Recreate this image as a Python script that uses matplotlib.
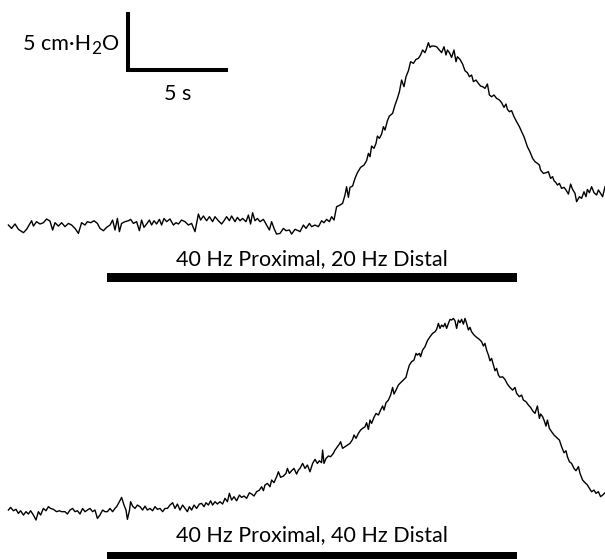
import matplotlib
matplotlib.use("Agg")
import matplotlib.pyplot as plt
from matplotlib.transforms import IdentityTransform
import numpy as np

# ---- data: time (s) and pressure change (cmH2O) ----
t1 = [0.42,0.58,0.75,0.92,1.17,1.33,1.58,1.67,1.83,2.00,2.17,2.33,2.50,2.63,2.75,2.92,3.08,3.25,3.42,3.58,
      3.75,3.92,4.08,4.25,4.37,4.53,4.70,4.87,5.00,5.17,5.33,5.50,5.63,5.75,5.87,5.97,6.08,6.25,6.42,6.53,
      6.67,6.83,6.97,7.08,7.20,7.33,7.47,7.58,7.70,7.83,7.97,8.08,8.20,8.33,8.50,8.67,8.80,8.92,9.08,9.25,
      9.42,9.58,9.75,9.92,10.03,10.17,10.33,10.47,10.63,10.75,10.92,11.08,11.20,11.33,11.47,11.58,11.75,11.87,12.00,12.13,
      12.30,12.42,12.53,12.63,12.75,12.87,13.00,13.17,13.33,13.47,13.58,13.70,13.83,14.00,14.17,14.30,14.47,14.58,14.75,14.92,
      15.00,15.17,15.30,15.47,15.58,15.75,15.92,16.08,16.20,16.33,16.47,16.58,16.70,16.83,17.00,17.13,17.25,17.33,17.42,17.50,
      17.63,17.75,17.87,18.03,18.20,18.33,18.42,18.50,18.58,18.70,18.80,18.87,18.97,19.08,19.17,19.25,19.37,19.47,19.53,19.63,
      19.75,19.87,19.97,20.08,20.20,20.30,20.42,20.53,20.67,20.80,20.92,21.03,21.13,21.25,21.33,21.42,21.50,21.58,21.70,21.83,
      21.97,22.08,22.20,22.30,22.37,22.47,22.58,22.70,22.80,22.87,23.00,23.13,23.25,23.37,23.47,23.58,23.67,23.80,23.92,24.03,
      24.13,24.25,24.37,24.47,24.58,24.70,24.83,24.97,25.08,25.20,25.30,25.37,25.47,25.58,25.70,25.83,25.97,26.08,26.20,26.30,
      26.37,26.47,26.53,26.63,26.75,26.87,26.97,27.03,27.17,27.30,27.42,27.53,27.63,27.70,27.80,27.87,27.97,28.08,28.20,28.30,
      28.42,28.53,28.63,28.75,28.83,28.97,29.08,29.20,29.30,29.37,29.47,29.58,29.70,29.83,29.92,30.03,30.13,30.25]
p1 = [0.00,-0.29,0.09,-0.37,-0.66,-0.37,0.37,-0.09,0.29,0.09,0.20,0.52,0.34,-0.43,0.20,-0.09,0.20,-0.14,0.14,0.00,
      -0.29,-0.72,0.20,0.00,0.29,0.20,0.37,0.14,-0.29,-0.49,-0.20,0.00,0.43,-0.43,0.57,-0.57,0.14,0.29,0.37,0.49,
      0.14,0.29,-0.49,0.43,-0.20,0.09,0.43,0.00,0.37,0.09,0.49,0.00,0.57,0.29,0.52,0.00,0.20,0.09,0.43,0.29,
      0.00,0.14,-0.57,0.95,0.43,0.78,0.37,0.72,0.29,0.72,0.37,0.09,0.37,0.72,0.37,0.78,0.29,0.66,0.37,0.57,
      0.29,0.86,0.09,1.06,0.37,0.57,0.29,0.49,0.00,-0.43,0.29,-0.29,-0.78,-0.72,-0.29,-0.49,-0.43,-0.78,-0.37,-0.49,
      -0.57,0.00,-0.29,0.14,-0.14,0.00,-0.14,0.37,0.20,0.49,0.29,0.72,0.43,1.58,1.72,1.87,2.59,3.30,2.39,3.25,
      3.36,4.02,4.51,4.97,5.17,5.55,6.18,5.89,6.81,6.61,7.04,7.67,7.47,7.84,8.48,8.19,8.99,9.40,9.48,9.63,
      10.34,10.92,11.49,12.50,11.93,12.79,13.30,14.08,13.94,14.28,14.37,14.66,15.09,14.86,15.23,15.72,15.32,15.43,15.43,15.37,
      15.09,14.86,15.37,14.66,15.09,14.86,14.45,15.09,14.08,14.51,14.28,13.88,13.30,13.13,12.79,12.93,12.36,12.50,12.21,11.98,
      11.93,11.78,12.16,11.21,11.06,11.21,10.92,10.78,10.55,10.14,10.43,9.97,9.77,9.86,9.34,8.91,8.48,8.05,7.61,7.10,
      6.75,6.41,6.18,5.75,5.46,5.32,5.17,4.74,4.45,4.51,4.60,4.02,4.17,3.82,3.65,3.45,3.59,3.16,3.25,3.02,
      2.67,3.53,3.07,2.73,2.01,2.44,2.30,2.87,2.44,3.07,2.79,3.30,2.79,2.59,3.02,2.73,2.44,3.30]

t2 = [0.42,0.53,0.67,0.80,0.92,1.03,1.17,1.30,1.42,1.53,1.67,1.80,1.92,2.03,2.17,2.30,2.42,2.53,2.67,2.83,
      2.97,3.08,3.25,3.37,3.50,3.63,3.75,3.87,4.00,4.13,4.25,4.37,4.50,4.63,4.75,4.87,5.00,5.13,5.25,5.37,
      5.50,5.63,5.75,5.83,5.97,6.08,6.20,6.30,6.37,6.47,6.53,6.63,6.75,6.87,7.00,7.13,7.25,7.37,7.50,7.63,
      7.75,7.87,8.00,8.13,8.25,8.37,8.50,8.63,8.75,8.87,9.00,9.13,9.25,9.37,9.47,9.58,9.70,9.83,9.97,10.08,
      10.20,10.30,10.42,10.53,10.63,10.75,10.87,11.00,11.13,11.25,11.37,11.47,11.58,11.70,11.83,11.97,12.08,12.20,12.33,12.47,
      12.58,12.70,12.83,12.97,13.08,13.17,13.25,13.37,13.50,13.58,13.70,13.83,13.92,14.03,14.17,14.30,14.37,14.47,14.58,14.70,
      14.83,14.92,
      15.00,15.13,15.25,15.37,15.50,15.63,15.75,15.87,15.97,16.08,16.13,16.20,16.30,16.42,16.53,16.67,16.75,16.87,16.97,17.03,
      17.13,17.25,17.37,17.50,17.63,17.70,17.80,17.92,18.03,18.13,18.25,18.33,18.42,18.50,18.58,18.70,18.80,18.92,19.03,19.13,
      19.20,19.30,19.42,19.53,19.63,19.70,19.80,19.92,20.03,20.17,20.30,20.37,20.47,20.58,20.70,20.80,20.87,20.97,21.03,21.13,
      21.25,21.37,21.50,21.63,21.75,21.83,21.92,22.00,22.08,22.17,22.25,22.33,22.42,22.50,22.58,22.67,22.75,22.83,22.92,23.00,
      23.08,23.17,23.25,23.33,23.42,23.50,23.58,23.70,23.83,23.97,24.08,24.17,24.25,24.33,24.42,24.50,24.58,24.67,24.75,24.83,
      24.92,25.00,25.13,25.25,25.37,25.50,25.63,25.75,25.83,25.97,26.08,26.17,26.30,26.42,26.53,26.63,26.75,26.87,26.97,27.03,
      27.13,27.20,27.30,27.37,27.47,27.58,27.70,27.83,27.97,28.08,28.20,28.30,28.37,28.47,28.58,28.70,28.80,28.92,29.00,29.13,
      29.25,29.37,29.47,29.58,29.70,29.80,29.92,30.03,30.13,30.25]
p2 = [0.00,0.23,-0.06,0.06,-0.29,-0.06,-0.43,-0.14,-0.34,-0.06,-0.43,-0.86,-0.14,-0.43,0.14,-0.06,0.29,0.14,0.06,-0.14,
      -0.06,-0.14,-0.14,-0.34,0.00,0.14,-0.14,-0.06,-0.34,0.14,-0.14,0.00,0.14,-0.14,0.00,-0.72,-0.43,0.00,-0.14,-0.14,
      0.14,-0.14,0.14,0.29,0.72,1.09,0.43,0.00,-0.80,-0.06,0.72,0.34,0.14,0.43,0.29,0.00,0.34,0.00,0.14,-0.06,
      0.29,0.06,0.14,-0.14,0.14,0.14,0.43,0.63,0.14,0.52,0.00,0.43,0.14,-0.14,0.29,0.00,0.43,0.14,0.52,0.57,
      0.29,0.63,0.43,0.80,0.43,0.72,0.52,0.72,0.52,1.01,0.72,1.44,0.86,1.15,0.80,1.29,1.09,1.21,1.01,1.49,
      1.38,1.21,1.58,1.72,2.01,1.67,2.16,2.30,2.01,2.59,2.36,2.87,3.30,2.82,2.93,3.16,3.59,3.16,3.39,3.59,
      3.10,3.45,
      3.59,4.02,3.59,3.88,3.30,4.02,4.37,4.02,4.25,4.08,5.17,4.02,4.45,4.66,4.60,4.89,5.17,5.46,5.69,5.89,
      5.32,5.46,5.60,5.75,6.09,6.47,6.18,6.61,6.90,7.04,7.18,7.53,6.95,7.76,7.47,7.99,8.33,8.19,8.62,8.97,
      8.62,9.25,9.48,9.91,10.57,10.00,10.34,10.78,10.98,11.21,11.44,11.93,12.50,12.79,12.93,13.51,13.36,13.51,13.22,13.79,
      14.08,14.60,14.94,15.23,15.37,15.57,16.09,15.66,15.95,15.80,16.09,15.66,16.09,16.44,16.38,16.52,16.32,15.66,16.38,16.15,
      16.44,16.03,16.52,16.09,15.52,15.75,15.37,15.09,14.89,14.71,14.51,14.14,14.37,13.79,13.36,12.87,13.07,12.50,12.01,12.21,
      11.64,11.44,11.49,11.26,10.86,10.57,10.34,10.57,10.06,9.77,9.91,9.48,9.34,9.05,8.85,8.56,8.33,8.97,7.90,8.28,
      8.05,7.76,7.24,7.76,7.04,6.75,6.47,6.26,6.03,5.46,4.94,5.11,4.60,4.17,4.02,3.59,3.39,3.74,3.16,2.59,
      2.36,2.16,1.87,1.58,1.72,1.44,1.58,1.15,1.29,1.49]

stim_start = 5.35   # s
stim_end = 25.85    # s
labels = ["40 Hz Proximal, 20 Hz Distal", "40 Hz Proximal, 40 Hz Distal"]
scale_t = 5   # s
scale_p = 5   # cmH2O

# ---- layout (in data units: s horizontally, cmH2O vertically) ----
W, H = 605, 559
PX_PER_S = 20.0
PX_PER_CM = 11.6

plt.rcParams['font.family'] = ['Lato', 'DejaVu Sans']

fig = plt.figure(figsize=(W / 100, H / 100), dpi=100)
ax = fig.add_axes([0, 0, 1, 1])
ax.set_xlim(0, W / PX_PER_S)
ax.set_ylim(0, H / PX_PER_CM)
ax.axis('off')

base1 = 28.79
base2 = 4.22
ax.plot(t1, np.array(p1) + base1, color='black', lw=1.0)
ax.plot(t2, np.array(p2) + base2, color='black', lw=1.0)

# stimulation bars
bar_h = 0.78
for yb in (23.85, -0.17):
    ax.add_patch(plt.Rectangle((stim_start, yb), stim_end - stim_start, bar_h,
                               color='black', lw=0))
fs = 15.5
ax.text((stim_start + stim_end) / 2, 25.86, labels[0], ha='center', va='center', fontsize=fs)
ax.text((stim_start + stim_end) / 2, 2.07, labels[1], ha='center', va='center', fontsize=fs)

# scale bar
sx, sy = 6.4, 42.16
ax.plot([sx, sx, sx + scale_t], [sy + scale_p, sy, sy], color='black', lw=2.9,
        solid_joinstyle='miter', solid_capstyle='butt')
ax.text(sx + scale_t / 2, 40.09, "5 s", ha='center', va='center', fontsize=fs)

# "5 cm·H2O" with a large subscript, built right to left
fig.canvas.draw()
renderer = fig.canvas.get_renderer()
x_right, y_base = ax.transData.transform((sx - 0.45, 43.9))
tO = ax.text(x_right, y_base, "O", ha='right', va='baseline', fontsize=fs,
             transform=IdentityTransform())
bb = tO.get_window_extent(renderer)
t2s = ax.text(bb.x0 - 0.5, y_base - 4.5, "2", ha='right', va='baseline', fontsize=fs * 0.8,
              transform=IdentityTransform())
bb2 = t2s.get_window_extent(renderer)
ax.text(bb2.x0 - 0.5, y_base, "5 cm\u00b7H", ha='right', va='baseline', fontsize=fs,
        transform=IdentityTransform())

fig.savefig("out.png", dpi=100)
